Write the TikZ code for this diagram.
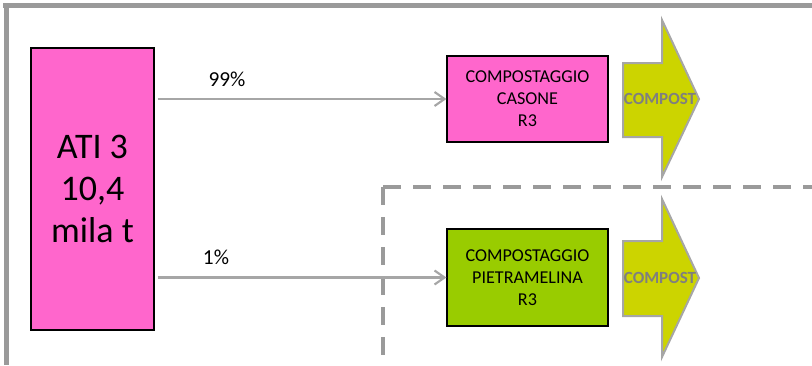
\documentclass[tikz,border=0pt]{standalone}
\usepackage{fontspec}
\setmainfont{Carlito}
\usetikzlibrary{arrows.meta}
\definecolor{pinkfill}{HTML}{FF66CC}
\definecolor{greenfill}{HTML}{99CC00}
\definecolor{compostfill}{RGB}{204,212,0}
\definecolor{framegray}{HTML}{9A9A9A}
\definecolor{linegray}{HTML}{A6A6A6}
\definecolor{textgray}{HTML}{7F7F7F}
\tikzset{
  plantbox/.style={draw=black, line width=0.9pt, align=center, inner sep=0pt,
    minimum width=120.75pt, font=\fontsize{13.6}{16.5}\selectfont},
  flow/.style={draw=linegray, line width=1.6pt, shorten <=2.25pt,
    -{Straight Barb[length=7.5pt,width=10.5pt,line width=1.6pt]}},
  pct/.style={font=\fontsize{16}{19}\selectfont, inner sep=0pt},
  compostarrow/.style={fill=compostfill, draw=linegray, line width=1.5pt, line join=miter},
  composttext/.style={font=\bfseries\fontsize{12.8}{15}\selectfont, text=textgray, inner sep=0pt},
  border/.style={draw=framegray, line width=3.75pt},
  region/.style={draw=framegray, line width=3pt, dash pattern=on 13.5pt off 9pt}
}
\begin{document}
\begin{tikzpicture}[x=0.75pt,y=-0.75pt]
\useasboundingbox (0,0) rectangle (812,365);
% frame
\draw[border] (3,5.5) -- (812,5.5);
\draw[border] (6,3) -- (6,365);
% dashed region
\coordinate (corner) at (383,187);
\coordinate (dashE) at (812,187);
\coordinate (dashS) at (383,365);
\draw[region] (corner) -- (dashE);
\draw[region] (corner) -- (dashS);
% source
\node[draw=black, line width=0.9pt, fill=pinkfill, minimum width=92.25pt, minimum height=211.5pt,
  align=center, inner sep=0pt, font=\fontsize{27}{31.5}\selectfont] (ati) at (92.5,189) {ATI 3\\10,4\\mila t};
% plants
\node[plantbox, fill=pinkfill, minimum height=64.5pt] (casone) at (527.5,99) {COMPOSTAGGIO\\CASONE\\R3};
\node[plantbox, fill=greenfill, minimum height=72.75pt] (pietra) at (527.5,277.5) {COMPOSTAGGIO\\PIETRAMELINA\\R3};
% flows
\draw[flow] (ati.east |- casone.west) -- (casone.west);
\draw[flow] (ati.east |- pietra.west) -- (pietra.west);
\node[pct] (p99) at (227,79) {99\%};
\node[pct] (p1) at (216,257) {1\%};
% compost arrows
\draw[compostarrow] (623,63) -- (662,63) -- (662,20) -- (699,99) -- (662,177) -- (662,137) -- (623,137) -- cycle;
\node[composttext] (c1) at (660,99) {COMPOST};
\draw[compostarrow] (623,241) -- (662,241) -- (662,199) -- (699,278) -- (662,357) -- (662,316) -- (623,316) -- cycle;
\node[composttext] (c2) at (660,278) {COMPOST};
\end{tikzpicture}
\end{document}
